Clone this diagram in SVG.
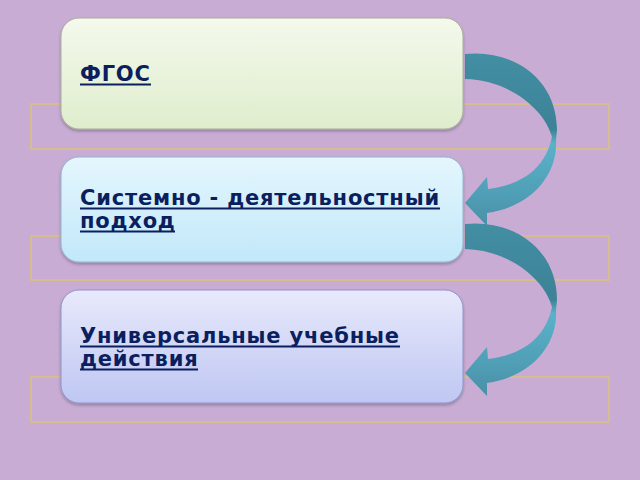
<svg xmlns="http://www.w3.org/2000/svg" width="640" height="480" viewBox="0 0 640 480">
<defs>
<linearGradient id="g1" x1="0" y1="0" x2="0" y2="1"><stop offset="0" stop-color="#F4F9EC"/><stop offset="1" stop-color="#DFEDCD"/></linearGradient>
<linearGradient id="g2" x1="0" y1="0" x2="0" y2="1"><stop offset="0" stop-color="#E4F6FD"/><stop offset="1" stop-color="#C2E8FA"/></linearGradient>
<linearGradient id="g3" x1="0" y1="0" x2="0" y2="1"><stop offset="0" stop-color="#E8E9FB"/><stop offset="1" stop-color="#BFC7F3"/></linearGradient>
<linearGradient id="a1" gradientUnits="userSpaceOnUse" x1="0" y1="55" x2="0" y2="225"><stop offset="0" stop-color="#428EA3"/><stop offset="0.44" stop-color="#3D8297"/><stop offset="0.52" stop-color="#5AB2C8"/><stop offset="0.8" stop-color="#50A0B7"/><stop offset="1" stop-color="#4A90A6"/></linearGradient>
<linearGradient id="a2" gradientUnits="userSpaceOnUse" x1="0" y1="225" x2="0" y2="395"><stop offset="0" stop-color="#428EA3"/><stop offset="0.44" stop-color="#3D8297"/><stop offset="0.52" stop-color="#5AB2C8"/><stop offset="0.8" stop-color="#50A0B7"/><stop offset="1" stop-color="#4A90A6"/></linearGradient>
<filter id="sh" x="-10%" y="-10%" width="120%" height="130%"><feDropShadow dx="0" dy="2" stdDeviation="1.5" flood-color="#000" flood-opacity="0.25"/></filter>
</defs>
<style>
.frame{fill:none;stroke:#D6BC8E;stroke-width:2}
.box{stroke-width:1}
.t{font-family:"DejaVu Sans",Verdana,sans-serif;font-weight:bold;font-size:21px;letter-spacing:0.8px;fill:#0B1F5E}
.ul{stroke:#0B1F5E;stroke-width:2}
.arr{stroke:none}
</style>
<rect width="640" height="480" fill="#C8ACD4"/>
<g id="frames">
<rect class="frame" x="31" y="104" width="578" height="45"/>
<rect class="frame" x="31" y="236" width="578" height="44"/>
<rect class="frame" x="31" y="377" width="578" height="45"/>
</g>
<g id="connectors">
<path class="arr" fill="url(#a1)" d="M465,54 C515,49 557,80 557,130 L556,140 C558,172 535,206 487,213 L487,226 L465,203 L487,177 L488,189 C520,185 545,170 552,137 C545,110 510,80 465,79 Z"/>
<path class="arr" fill="url(#a2)" d="M465,224 C515,219 557,250 557,300 L556,310 C558,342 535,376 487,383 L487,396 L465,373 L487,347 L488,359 C520,355 545,340 552,307 C545,280 510,250 465,249 Z"/>
</g>
<g id="node1">
<rect class="box" x="61" y="18" width="402" height="111" rx="18" fill="url(#g1)" stroke="#A8AE9E" filter="url(#sh)"/>
<text class="t" x="80" y="81">ФГОС</text>
<line class="ul" x1="80" y1="84.5" x2="151" y2="84.5"/>
</g>
<g id="node2">
<rect class="box" x="61" y="157" width="402" height="105" rx="18" fill="url(#g2)" stroke="#94B4CC" filter="url(#sh)"/>
<text class="t" x="80" y="205">Системно - деятельностный</text>
<text class="t" x="80" y="228">подход</text>
<line class="ul" x1="80" y1="208.5" x2="440" y2="208.5"/>
<line class="ul" x1="80" y1="231.5" x2="175" y2="231.5"/>
</g>
<g id="node3">
<rect class="box" x="61" y="290" width="402" height="113" rx="18" fill="url(#g3)" stroke="#8E94C8" filter="url(#sh)"/>
<text class="t" x="80" y="343">Универсальные учебные</text>
<text class="t" x="80" y="366">действия</text>
<line class="ul" x1="80" y1="346.5" x2="400" y2="346.5"/>
<line class="ul" x1="80" y1="369.5" x2="198" y2="369.5"/>
</g>
</svg>
